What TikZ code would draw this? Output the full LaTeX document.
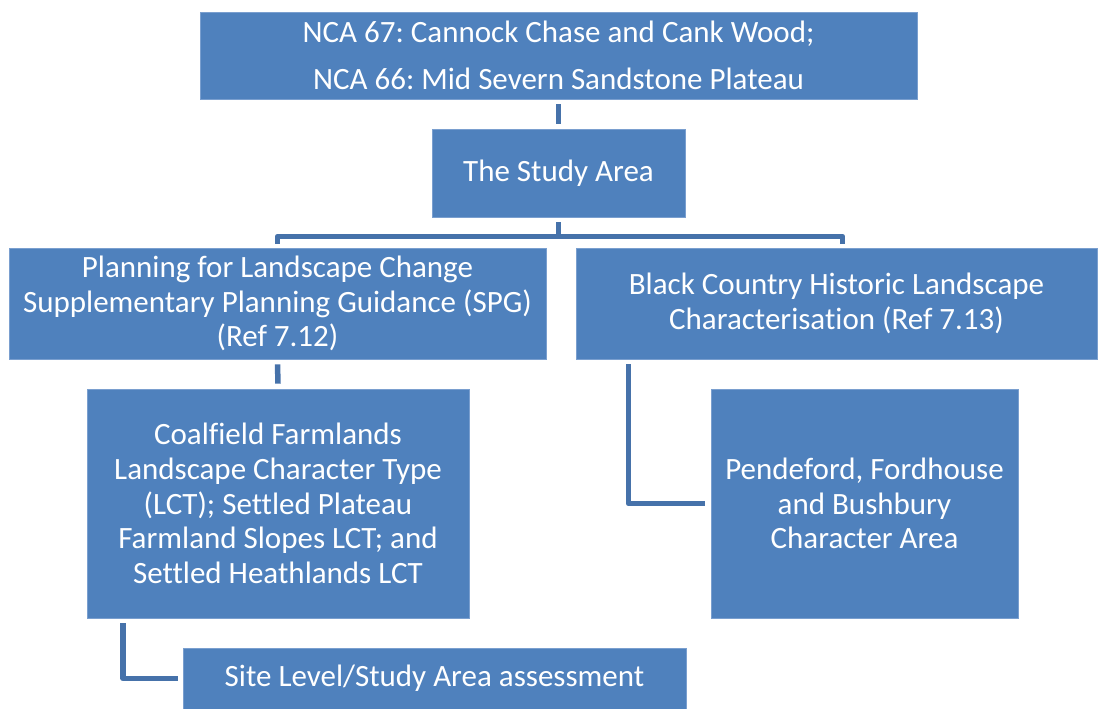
\documentclass[tikz,border=0pt]{standalone}
\usepackage{fontspec}
\setmainfont{Carlito}[Ligatures=NoCommon]
\usepackage{tikz}
\usetikzlibrary{calc,positioning}
\definecolor{boxblue}{HTML}{4F81BD}
\definecolor{boxedge}{HTML}{7A9FCF}
\definecolor{linkblue}{HTML}{4672AA}
\frenchspacing

\tikzset{
  box/.style={fill=boxblue, draw=boxedge, line width=0.8pt, text=white,
    align=center, inner sep=0pt, font=\fontsize{31}{34.8}\selectfont},
  link/.style={draw=linkblue, line width=5.5pt}
}

\begin{document}
\begin{tikzpicture}[x=1pt,y=-1pt]
  \useasboundingbox (0,0) rectangle (1098,709);
  \node[box, minimum width=717pt, minimum height=87pt,
    font=\fontsize{31}{47}\selectfont] (nca) at (558.5,55.5)
    {NCA 67: Cannock Chase and Cank Wood;\\NCA 66: Mid Severn Sandstone Plateau};
  \node[box, minimum width=253pt, minimum height=88pt] (study) at (558.5,173)
    {The Study Area};
  \node[box, minimum width=537pt, minimum height=111pt] (plan) at (277.5,303.5)
    {Planning for Landscape Change\\Supplementary Planning Guidance (SPG)\\(Ref 7.12)};
  \node[box, minimum width=521pt, minimum height=111pt] (black) at (836.5,303.5)
    {Black Country Historic Landscape\\Characterisation (Ref 7.13)};
  \node[box, minimum width=382pt, minimum height=229pt] (coal) at (278,503.5)
    {Coalfield Farmlands\\Landscape Character Type\\(LCT); Settled Plateau\\Farmland Slopes LCT; and\\Settled Heathlands LCT};
  \node[box, minimum width=307pt, minimum height=229pt] (pend) at (864.5,503.5)
    {Pendeford, Fordhouse\\and Bushbury\\Character Area};
  \node[box, minimum width=503pt, minimum height=61pt] (site) at (434.5,678.5)
    {Site Level/Study Area assessment};

  % connectors
  \draw[link] ([yshift=-5pt]nca.south) -- ([yshift=5pt]study.north);
  \draw[link] ([yshift=-5pt]study.south) -- ++(0,14) coordinate (fork);
  \draw[link, line join=round] ([yshift=4pt]plan.north) |- (fork)
    -| ([xshift=6pt,yshift=4pt]black.north);
  \draw[link] ([yshift=-5pt]plan.south) -- ([yshift=5pt]coal.north);
  \draw[link, line join=round] ([xshift=-208pt,yshift=-5pt]black.south)
    |- ([xshift=-6pt]pend.west);
  \draw[link, line join=round] ([xshift=-155pt,yshift=-5pt]coal.south)
    |- ([xshift=-5pt]site.west);
\end{tikzpicture}
\end{document}
